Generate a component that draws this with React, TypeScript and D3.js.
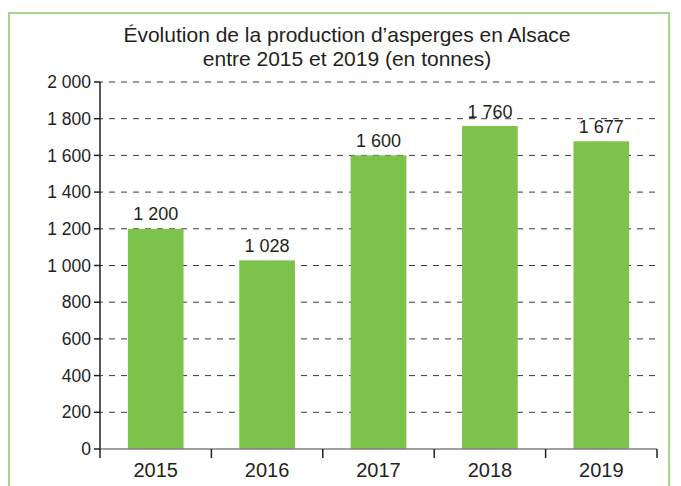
import * as d3 from "d3";

const years = ["2015", "2016", "2017", "2018", "2019"];
const production = [1200, 1028, 1600, 1760, 1677];
const yTicks = [0, 200, 400, 600, 800, 1000, 1200, 1400, 1600, 1800, 2000];
const titleLines = [
  "Évolution de la production d’asperges en Alsace",
  "entre 2015 et 2019 (en tonnes)",
];

const WIDTH = 681;
const HEIGHT = 486;
const MARGIN = { top: 82, right: 24, bottom: 37, left: 100 };
const FONT = "'Liberation Sans', Arial, Helvetica, sans-serif";

// séparateur des milliers : "1 200"
const fmt = (v: number) => d3.format(",")(v).replace(/,/g, " ");

export default function App() {
  const boundsWidth = WIDTH - MARGIN.left - MARGIN.right;
  const boundsHeight = HEIGHT - MARGIN.top - MARGIN.bottom;

  const xScale = d3
    .scaleBand()
    .domain(years)
    .range([0, boundsWidth])
    .paddingInner(0.5)
    .paddingOuter(0.25);

  const yScale = d3.scaleLinear().domain([0, 2000]).range([boundsHeight, 0]);

  const step = xScale.step();

  return (
    <svg
      width={WIDTH}
      height={HEIGHT}
      style={{ position: "absolute", left: 0, top: 0, fontFamily: FONT }}
    >
      {/* cadre vert */}
      <path
        d={`M9,${HEIGHT} V13 H669 V${HEIGHT}`}
        fill="none"
        stroke="#a6d68c"
        strokeWidth={2}
      />

      {titleLines.map((t, i) => (
        <text
          key={i}
          x={347}
          y={42 + i * 24}
          textAnchor="middle"
          fontSize={21}
          fill="#231f20"
        >
          {t}
        </text>
      ))}

      <g transform={`translate(${MARGIN.left},${MARGIN.top})`}>
        {/* grille */}
        {yTicks.slice(1).map((v) => (
          <line
            key={v}
            x1={0}
            x2={boundsWidth}
            y1={yScale(v)}
            y2={yScale(v)}
            stroke="#3a3a3a"
            strokeWidth={1}
            strokeDasharray="6 6"
            strokeDashoffset={3}
          />
        ))}

        {/* barres */}
        {production.map((v, i) => {
          const x = xScale(years[i]) ?? 0;
          return (
            <g key={years[i]}>
              <rect
                x={x}
                width={xScale.bandwidth()}
                y={yScale(v)}
                height={yScale(0) - yScale(v)}
                fill="#7dc24b"
              />
              <text
                x={x + xScale.bandwidth() / 2}
                y={yScale(v) - 8.5}
                textAnchor="middle"
                fontSize={18}
                fill="#231f20"
              >
                {fmt(v)}
              </text>
            </g>
          );
        })}

        {/* axe X */}
        <line
          x1={0}
          x2={boundsWidth}
          y1={yScale(0)}
          y2={yScale(0)}
          stroke="#808080"
          strokeWidth={1.5}
        />
        {years.map((y, i) => (
          <g key={y}>
            <line
              x1={step * (i + 1)}
              x2={step * (i + 1)}
              y1={yScale(0)}
              y2={yScale(0) + 9}
              stroke="#231f20"
              strokeWidth={1.5}
            />
            <text
              x={(xScale(y) ?? 0) + xScale.bandwidth() / 2}
              y={yScale(0) + 28}
              textAnchor="middle"
              fontSize={20}
              fill="#231f20"
            >
              {y}
            </text>
          </g>
        ))}

        {/* axe Y */}
        <line
          x1={0}
          x2={0}
          y1={yScale(2000)}
          y2={yScale(0) + 9}
          stroke="#231f20"
          strokeWidth={1.5}
        />
        {yTicks.map((v) => (
          <g key={v}>
            <line
              x1={-6}
              x2={0}
              y1={yScale(v)}
              y2={yScale(v)}
              stroke="#231f20"
              strokeWidth={1.5}
            />
            <text
              x={-9}
              y={yScale(v)}
              dy="0.35em"
              textAnchor="end"
              fontSize={17.5}
              fill="#231f20"
            >
              {fmt(v)}
            </text>
          </g>
        ))}
      </g>
    </svg>
  );
}
